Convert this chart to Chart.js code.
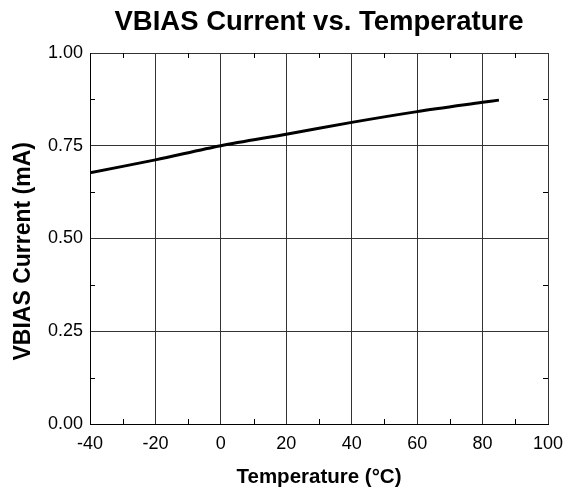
<!DOCTYPE html>
<html>
<head>
<meta charset="utf-8">
<script src="https://cdn.jsdelivr.net/npm/chart.js@4/dist/chart.umd.min.js"></script>
<style>
  html, body { margin: 0; padding: 0; background: #fff; }
  #wrap { width: 578px; height: 495px; }
</style>
</head>
<body>
<div id="wrap"><canvas id="chart" width="578" height="495"></canvas></div>
<script>
// datos
const temperaturas = [-40, -20, 0, 20, 40, 60, 80, 85];
const corrientes = [0.677, 0.712, 0.750, 0.781, 0.813, 0.842, 0.867, 0.873];

// marcas menores
const menoresX = [-30, -10, 10, 30, 50, 70, 90];
const menoresY = [0.125, 0.375, 0.625, 0.875];

const fuente = 'Arial, "Liberation Sans", sans-serif';

// dibuja las marcas menores hacia dentro en los cuatro bordes
const marcasMenores = {
    id: 'marcasMenores',
    afterDraw(chart) {
        const ctx = chart.ctx;
        const a = chart.chartArea;
        const sx = chart.scales.x;
        const sy = chart.scales.y;
        const largo = 5;
        ctx.save();
        ctx.strokeStyle = '#000';
        ctx.lineWidth = 1;
        ctx.beginPath();
        menoresX.forEach(function(v) {
            const px = Math.round(sx.getPixelForValue(v)) + 0.5;
            ctx.moveTo(px, a.bottom);
            ctx.lineTo(px, a.bottom - largo);
            ctx.moveTo(px, a.top);
            ctx.lineTo(px, a.top + largo);
        });
        menoresY.forEach(function(v) {
            const py = Math.round(sy.getPixelForValue(v)) + 0.5;
            ctx.moveTo(a.left, py);
            ctx.lineTo(a.left + largo, py);
            ctx.moveTo(a.right, py);
            ctx.lineTo(a.right - largo, py);
        });
        ctx.stroke();
        ctx.restore();
    }
};

const ctx = document.getElementById('chart').getContext('2d');
const chart = new Chart(ctx, {
    type: 'line',
    data: {
        datasets: [{
            data: temperaturas.map(function(t, i) { return { x: t, y: corrientes[i] }; }),
            borderColor: '#000',
            borderWidth: 3,
            pointRadius: 0,
            tension: 0.3,
            fill: false
        }]
    },
    options: {
        responsive: false,
        animation: false,
        layout: {
            padding: { top: 6, right: 30, bottom: 0, left: 0 }
        },
        plugins: {
            legend: { display: false },
            tooltip: { enabled: false },
            title: {
                display: true,
                fullSize: false,
                text: 'VBIAS Current vs. Temperature',
                color: '#000',
                font: { family: fuente, size: 27.5, weight: 'bold' },
                padding: { top: 0, bottom: 14 }
            }
        },
        scales: {
            x: {
                type: 'linear',
                min: -40,
                max: 100,
                ticks: {
                    stepSize: 20,
                    color: '#000',
                    font: { family: fuente, size: 18 },
                    padding: 9,
                    maxRotation: 0
                },
                grid: { color: '#333', lineWidth: 1, drawTicks: false },
                border: { color: '#000', width: 1 },
                title: {
                    display: true,
                    text: 'Temperature (°C)',
                    color: '#000',
                    font: { family: fuente, size: 20.5, weight: 'bold' },
                    padding: { top: 0, bottom: 5 }
                },
                afterFit: function(scale) { scale.height = 71; }
            },
            y: {
                min: 0,
                max: 1,
                ticks: {
                    stepSize: 0.25,
                    color: '#000',
                    font: { family: fuente, size: 18 },
                    padding: 7,
                    callback: function(v) { return v.toFixed(2); }
                },
                grid: { color: '#333', lineWidth: 1, drawTicks: false },
                border: { color: '#000', width: 1 },
                title: {
                    display: true,
                    // espacios al final para bajar el texto como en el original
                    text: 'VBIAS Current (mA)    ',
                    color: '#000',
                    font: { family: fuente, size: 23, weight: 'bold' },
                    padding: { top: 10, bottom: 0 }
                },
                afterFit: function(scale) { scale.width = 90; }
            }
        }
    },
    plugins: [marcasMenores]
});
</script>
</body>
</html>
